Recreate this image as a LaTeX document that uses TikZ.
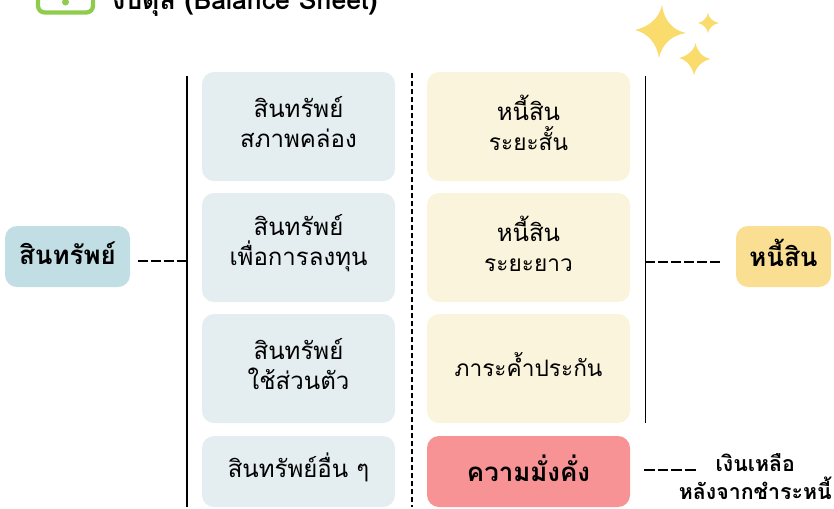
\documentclass[tikz,border=0pt]{standalone}
\usepackage{fontspec}
\setmainfont{Liberation Sans}
\newfontfamily\thaifont[Script=Thai]{Loma}
\definecolor{assetlight}{HTML}{E4EDF0}
\definecolor{debtlight}{HTML}{FBF4DC}
\definecolor{assetstrong}{HTML}{C1DEE5}
\definecolor{debtstrong}{HTML}{FADF92}
\definecolor{wealthred}{HTML}{F79295}
\definecolor{iconGreen}{HTML}{8FCB4C}
\definecolor{starYellow}{HTML}{F9DC6B}
\tikzset{
  x=0.75pt,y=-0.75pt,
  cell/.style={inner sep=0pt,align=center,text width=140pt,font=\thaifont\fontsize{18}{22.5}\selectfont},
  keycell/.style={inner sep=0pt,align=center,font=\thaifont\bfseries\fontsize{19.4}{24}\selectfont},
  spine/.style={line width=1.3pt,black},
  dashline/.style={line width=1.2pt,black,dash pattern=on 7.4pt off 2.25pt},
  sidelabel/.style={inner sep=0pt,align=center,font=\thaifont\bfseries\fontsize{16}{21}\selectfont}
}
\newcommand{\narrowthai}{\fontsize{17}{22.5}\selectfont}
\newcommand{\boxcell}[7]{% name, x1, y1, x2, y2, colour, text
  \fill[#6,rounded corners=9pt] (#2,#3) rectangle (#4,#5);
  \node[cell] (#1) at ({(#2+#4)/2},{(#3+#5)/2-4}) {#7};}
\begin{document}
\begin{tikzpicture}
\useasboundingbox (0,0) rectangle (834,508);
\clip (0,0) rectangle (834,508);
% icon
\draw[iconGreen,line width=3.2pt,rounded corners=5pt] (38,-15) rectangle (93,12.5);
\fill[iconGreen] (65.5,2) circle (3.5);
\node[anchor=base west,inner sep=0pt,font=\thaifont\bfseries\fontsize{20}{24}\selectfont] (title) at (112,9) {งบดุล (Balance Sheet)};
% stars
\fill[starYellow] (662,5) .. controls (664,20) and (672,30) .. (686,33) .. controls (672,35) and (662,44) .. (659,58) .. controls (657,44) and (648,33) .. (635,30) .. controls (648,27) and (659,19) .. (662,5) -- cycle;
\fill[starYellow] (708,13) .. controls (709,18) and (713,22) .. (719,23) .. controls (713,24) and (709,28) .. (708,33) .. controls (707,28) and (703,24) .. (698,23) .. controls (703,22) and (707,18) .. (708,13) -- cycle;
\fill[starYellow] (695.5,43) .. controls (697,51) and (702,57) .. (710.5,59) .. controls (702,61) and (696,67) .. (694,75) .. controls (692,67) and (687,60) .. (679,58) .. controls (687,56) and (694,51) .. (695.5,43) -- cycle;
% cells
\boxcell{a1}{202}{72}{395}{181}{assetlight}{สินทรัพย์\\สภาพคล่อง}
\boxcell{a2}{202}{193}{395}{302}{assetlight}{สินทรัพย์\\เพื่อการลงทุน}
\boxcell{a3}{202}{314}{395}{423}{assetlight}{สินทรัพย์\\ใช้ส่วนตัว}
\boxcell{a4}{202}{436}{395}{507}{assetlight}{สินทรัพย์อื่น ๆ}
\boxcell{d1}{427}{72}{630}{181}{debtlight}{หนี้สิน\\{\narrowthai ระยะสั้น}}
\boxcell{d2}{427}{193}{630}{302}{debtlight}{หนี้สิน\\{\narrowthai ระยะยาว}}
\boxcell{d3}{427}{314}{630}{423}{debtlight}{\narrowthai ภาระค้ำประกัน}
\fill[wealthred,rounded corners=9pt] (427,436) rectangle (630,507);
\node[keycell] (wealth) at (528.5,468) {ความมั่งคั่ง};
\fill[assetstrong,rounded corners=9pt] (5,226) rectangle (130,287);
\node[keycell] (assets) at (67.5,253) {สินทรัพย์};
\fill[debtstrong,rounded corners=9pt] (736,226) rectangle (831,287);
\node[keycell] (debts) at (783.5,253) {หนี้สิน};
\node[sidelabel,anchor=north east] (remain) at (832,453.5) {เงินเหลือ\\หลังจากชำระหนี้};
% spines
\coordinate (s1t) at (186.7,76); \coordinate (s1b) at (186.7,507);
\coordinate (s2t) at (411.7,73); \coordinate (s2b) at (411.7,507);
\coordinate (s3t) at (645.5,76); \coordinate (s3b) at (645.5,423);
\draw[spine] (s1t) -- (s1b);
\draw[line width=1.3pt,black,dash pattern=on 4pt off 2pt] (s2t) -- (s2b);
\draw[spine] (s3t) -- (s3b);
% connectors
\coordinate (c1a) at (138,261); \coordinate (c1b) at (186.7,261);
\coordinate (c2a) at (645.5,262); \coordinate (c2b) at (720,262);
\coordinate (c3a) at (644,470); \coordinate (c3b) at (696,470);
\draw[dashline] (c1a) -- (c1b);
\draw[dashline] (c2a) -- (c2b);
\draw[dashline,dash pattern=on 8pt off 2.3pt] (c3a) -- (c3b);
\end{tikzpicture}
\end{document}
